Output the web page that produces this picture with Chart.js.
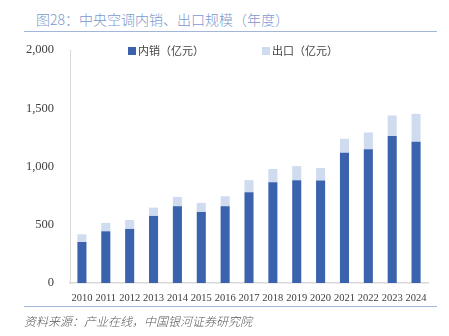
<!DOCTYPE html>
<html>
<head>
<meta charset="utf-8">
<script src="https://cdn.jsdelivr.net/npm/chart.js@4"></script>
<style>
  body { margin: 0; width: 449px; height: 336px; background: #fff; position: relative; overflow: hidden; }
  #title { position: absolute; left: 36px; top: 9px; font: 300 14px "Noto Sans CJK SC", sans-serif; color: #7b98cd; white-space: nowrap; }
  .rule { position: absolute; left: 24px; width: 413px; height: 0; border-top: 1.5px solid #a3b6da; }
  #source { position: absolute; left: 24px; top: 312px; font: italic 300 12px "Noto Sans CJK SC", sans-serif; color: #595959; white-space: nowrap; }
  #legend { position: absolute; top: 42px; left: 128px; font: 11px "Noto Sans CJK SC", sans-serif; color: #444; white-space: nowrap; }
  #legend span.item { position: absolute; top: 0; }
  #legend i { display: inline-block; width: 8px; height: 8px; margin-right: 2px; vertical-align: 0px; }
  #wrap { position: absolute; left: 0; top: 0; width: 449px; height: 336px; }
</style>
</head>
<body>
<div id="title">图28：中央空调内销、出口规模（年度）</div>
<div class="rule" style="top:31px"></div>
<div id="wrap"><canvas id="chart"></canvas></div>
<div id="legend"></div>
<div class="rule" style="top:306px"></div>
<div id="source">资料来源：产业在线，中国银河证券研究院</div>
<script>
// 年份
const years = ['2010', '2011', '2012', '2013', '2014', '2015', '2016', '2017',
  '2018', '2019', '2020', '2021', '2022', '2023', '2024'];
// 内销（亿元）
const domestic = [352, 444, 464, 576, 659, 610, 659, 779, 865, 883, 880, 1117, 1149, 1261, 1212];
// 出口（亿元）
const exports_ = [66, 72, 77, 71, 80, 78, 86, 104, 114, 120, 108, 121, 143, 177, 240];
const seriesNames = ['内销（亿元）', '出口（亿元）'];
const seriesColors = ['#3a62ad', '#cfdcf0'];
const yTicks = [0, 500, 1000, 1500, 2000];

// HTML legend
const legend = document.getElementById('legend');
seriesNames.forEach(function (name, i) {
  const item = document.createElement('span');
  item.className = 'item';
  item.style.left = (i * 134) + 'px';
  item.innerHTML = '<i style="background:' + seriesColors[i] + '"></i>' + name;
  legend.appendChild(item);
});

const ctx = document.getElementById('chart').getContext('2d');
new Chart(ctx, {
  type: 'bar',
  data: {
    labels: years,
    datasets: [
      { label: seriesNames[0], data: domestic, backgroundColor: seriesColors[0], borderWidth: 0 },
      { label: seriesNames[1], data: exports_, backgroundColor: seriesColors[1], borderWidth: 0 }
    ]
  },
  options: {
    responsive: true,
    maintainAspectRatio: false,
    animation: false,
    layout: { padding: { top: 50, bottom: 28, left: 0, right: 21 } },
    plugins: { legend: { display: false }, tooltip: { enabled: false } },
    datasets: { bar: { barPercentage: 0.38, categoryPercentage: 1 } },
    scales: {
      x: {
        stacked: true,
        grid: { display: false, drawTicks: false },
        border: { display: true, color: '#d9d9d9', width: 1.5 },
        ticks: { color: '#404040', font: { family: 'Liberation Serif', size: 10.5 }, padding: 9, maxRotation: 0, autoSkip: false },
        afterFit: function (scale) { scale.height = 25; }
      },
      y: {
        stacked: true,
        min: 0,
        max: 2000,
        grid: { display: false, drawTicks: false },
        border: { display: true, color: '#d9d9d9', width: 1 },
        afterBuildTicks: function (scale) { scale.ticks = yTicks.map(v => ({ value: v })); },
        ticks: {
          color: '#404040',
          font: { family: 'Liberation Serif', size: 12.5 },
          padding: 16,
          callback: function (v) { return Number(v).toLocaleString('en-US'); }
        },
        afterFit: function (scale) { scale.width = 70; }
      }
    }
  }
});
</script>
</body>
</html>
